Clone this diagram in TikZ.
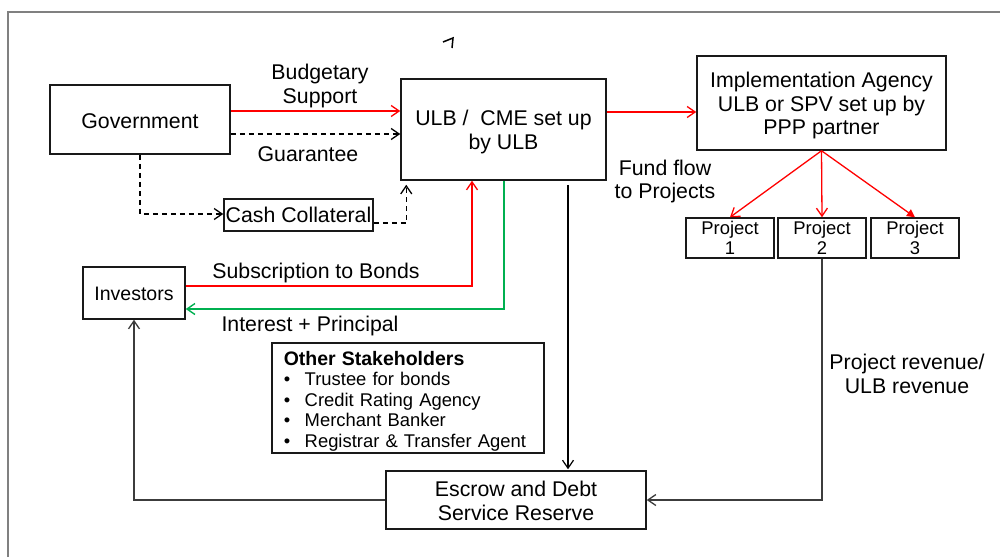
\documentclass[tikz,border=0pt]{standalone}
\usepackage{fontspec}
\setmainfont{Liberation Sans}
\usetikzlibrary{arrows.meta,calc}
\newcommand\fA{\fontsize{21.3}{23.5}\selectfont}
\newcommand\fI{\fontsize{19.5}{21}\selectfont}
\newcommand\fP{\fontsize{18.4}{20}\selectfont}
\newcommand\fS{\fontsize{18.4}{20.5}\selectfont}
\newcommand\upst[1]{\rule{0pt}{#1pt}}
\definecolor{lnred}{RGB}{255,0,0}
\definecolor{lngreen}{RGB}{0,176,80}
\definecolor{lngray}{RGB}{60,60,60}
\definecolor{frgray}{RGB}{128,128,128}
\begin{document}
\begin{tikzpicture}[x=1pt,y=-1pt,
  bx/.style={draw=black!90, line width=1.5pt, inner sep=0pt, align=center},
  lbl/.style={inner sep=0pt, align=center, font=\fA},
  barb/.style={-{Straight Barb[length=8pt,width=11pt]}},
  redarr/.style={barb, draw=lnred, line width=1.3pt},
  greenarr/.style={barb, draw=lngreen, line width=1.4pt},
  dasharr/.style={barb, draw=black, line width=1.3pt, dash pattern=on 5pt off 4pt},
  grayarr/.style={barb, draw=lngray, line width=1.3pt},
  blkarr/.style={barb, draw=black, line width=1.2pt}]
\useasboundingbox (0,0) rectangle (1000,557);
% frame
\draw[frgray, line width=1.6pt] (8,557) -- (8,12) -- (1000,12);
% small mark
\draw[black, line width=1.5pt] (443,42) -- (453,38) -- (452,48);

% nodes
\node[bx, minimum width=180pt, minimum height=69pt, font=\fA] (gov) at (140,119.5) {\upst{17.5}Government};
\node[bx, minimum width=205pt, minimum height=101pt, font=\fA] (ulb) at (503.5,129.5) {\upst{20.5}ULB /\ \ CME set up\\by ULB};
\node[bx, minimum width=249pt, minimum height=94pt, font=\fA] (impl) at (821.5,103) {\upst{20.5}Implementation Agency\\ULB or SPV set up by\\PPP partner};
\node[bx, minimum width=149pt, minimum height=32pt, font=\fA] (cash) at (298.5,215) {Cash Collateral};
\node[bx, minimum width=88pt, minimum height=40pt, font=\fP] (p1) at (730,238) {Project\\1};
\node[bx, minimum width=88pt, minimum height=40pt, font=\fP] (p2) at (822,238) {Project\\2};
\node[bx, minimum width=88pt, minimum height=40pt, font=\fP] (p3) at (915,238) {Project\\3};
\node[bx, minimum width=102pt, minimum height=52pt, font=\fI] (inv) at (134,293) {\upst{16}Investors};
\node[bx, anchor=north west, minimum height=110pt, text width=248pt, inner xsep=12pt, align=left, font=\fS] (stake) at (271,342)
  {{\fontsize{19.5}{20.5}\selectfont\bfseries \upst{20.5}Other Stakeholders}\\
   \makebox[21pt][l]{•}Trustee for bonds\\
   \makebox[21pt][l]{•}Credit Rating Agency\\
   \makebox[21pt][l]{•}Merchant Banker\\
   \makebox[21pt][l]{•}Registrar \& Transfer Agent};
\node[bx, minimum width=260pt, minimum height=58pt, font=\fA] (esc) at (516,500) {\upst{17}Escrow and Debt\\Service Reserve};

% labels
\node[lbl] (lbud) at (320,86) {Budgetary\\Support};
\node[lbl] (lgua) at (308,154) {Guarantee};
\node[lbl] (lfund) at (665,181.5) {Fund flow\\to Projects};
\node[lbl] (lsub) at (316,273) {Subscription to Bonds};
\node[lbl] (lint) at (310,326) {Interest + Principal};
\node[lbl] (lrev) at (907,374) {Project revenue/\\ULB revenue};

% connectors
\coordinate (cbud) at ([yshift=8.5pt]gov.east);
\draw[redarr] (cbud) -- (cbud -| ulb.west);
\coordinate (cgua) at ([yshift=-14.5pt]gov.east);
\draw[dasharr] (cgua) -- (cgua -| ulb.west);
\draw[dasharr] (gov.south) |- ([yshift=1pt]cash.west);
\draw[dasharr, shorten >=4pt] ([yshift=-8pt]cash.east) -| ([xshift=6pt]ulb.south west);
\coordinate (cimp) at ([yshift=17.5pt]ulb.east);
\draw[redarr] (cimp) -- (cimp -| impl.west);
\draw[redarr] (impl.south) -- (p1.north);
\draw[redarr] (impl.south) -- (p2.north);
\draw[draw=lnred, line width=1.3pt, -{Triangle[length=8pt,width=8pt]}] (impl.south) -- (p3.north);
\draw[redarr] ([yshift=7pt]inv.east) -| ([xshift=-31.5pt]ulb.south);
\draw[greenarr] ([xshift=0.5pt]ulb.south) |- ([yshift=-16pt]inv.east);
\coordinate (cesc) at ([xshift=64.5pt,yshift=-4pt]ulb.south);
\draw[blkarr] (cesc) -- ([yshift=1pt]cesc |- esc.north);
\draw[grayarr] (esc.west) -| (inv.south);
\draw[grayarr] (p2.south) |- (esc.east);
\end{tikzpicture}
\end{document}
